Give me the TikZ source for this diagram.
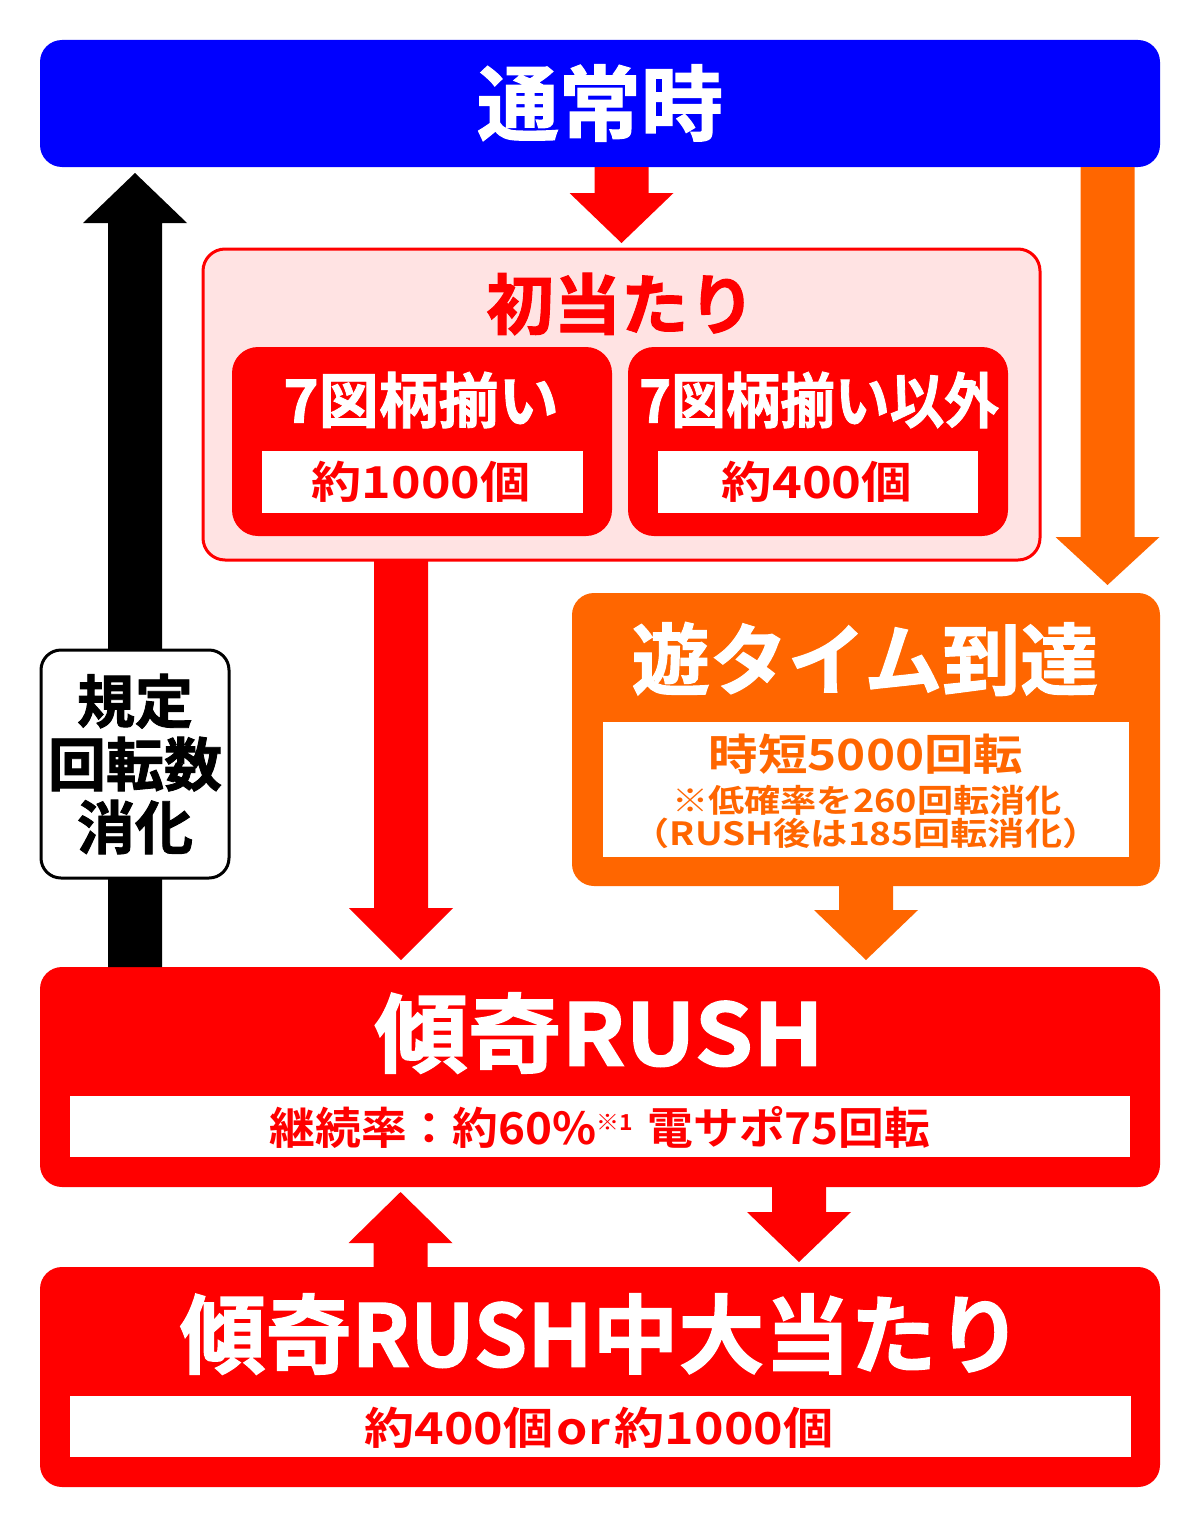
\documentclass[tikz,border=0pt]{standalone}
\usepackage{fontspec}
\newfontfamily\jp{Noto Sans CJK JP}[UprightFont={* Bold}]
\newfontfamily\jph{Noto Sans CJK JP}[UprightFont={* Bold},FakeBold=1.5]
\usetikzlibrary{calc}
\definecolor{pblue}{HTML}{0000FF}
\definecolor{pred}{HTML}{FF0000}
\definecolor{porange}{HTML}{FF6600}
\definecolor{ppink}{HTML}{FFE3E3}
\newcommand\fatdown[4]{%
  \fill[#1] let \p1=(#2), \p2=(#3) in
    (\x2-27pt,\y1) -- (\x2+27pt,\y1) -- (\x2+27pt,\y2+#4) -- (\x2+52pt,\y2+#4)
    -- (\x2,\y2) -- (\x2-52pt,\y2+#4) -- (\x2-27pt,\y2+#4) -- cycle;}
\newcommand\fatup[4]{%
  \fill[#1] let \p1=(#2), \p2=(#3) in
    (\x2-27pt,\y1) -- (\x2+27pt,\y1) -- (\x2+27pt,\y2-#4) -- (\x2+52pt,\y2-#4)
    -- (\x2,\y2) -- (\x2-52pt,\y2-#4) -- (\x2-27pt,\y2-#4) -- cycle;}
\newcommand\sx[2]{\scalebox{#1}[1]{#2}}
\tikzset{
  panel/.style={inner sep=0pt, outer sep=0pt, rounded corners=22pt},
  wrect/.style={inner sep=0pt, outer sep=0pt, fill=white},
  ttl/.style={inner sep=0pt, outer sep=0pt, text=white},
  fs/.style={font=\jph\fontsize{#1}{#1}\selectfont},
  fn/.style={font=\jp\fontsize{#1}{#1}\selectfont}
}
\begin{document}
\begin{tikzpicture}[x=1pt,y=-1pt]
\useasboundingbox (0,0) rectangle (1200,1528);
\fill[white] (0,0) rectangle (1200,1528);

% boxes
\node[panel, fill=pblue, minimum width=1120pt, minimum height=127pt] (normal) at (600,103.5) {};
\node[ttl, fs=82] (normalT) at (600,103) {通常時};

\node[panel, fill=ppink, draw=pred, line width=3pt, minimum width=837pt, minimum height=311pt] (init) at (621.5,404.5) {};
\node[ttl, text=pred, fs=66] (initT) at (621,304) {\sx{1.02}{初当たり}};

\node[panel, rounded corners=26pt, fill=pred, minimum width=380pt, minimum height=189pt] (sev) at (422,441.5) {};
\node[ttl, fs=60] (sevT) at (421,400) {7図柄揃い};
\node[wrect, minimum width=321pt, minimum height=62pt] (sevV) at (422.5,482) {};
\node[inner sep=0pt, text=pred, fn=44] (sevVT) at (421,482) {\sx{1.14}{約1000個}};

\node[panel, rounded corners=26pt, fill=pred, minimum width=380pt, minimum height=189pt] (oth) at (818,441.5) {};
\node[ttl, fs=60] (othT) at (819,400) {\sx{0.91}{7図柄揃い以外}};
\node[wrect, minimum width=320pt, minimum height=62pt] (othV) at (818,482) {};
\node[inner sep=0pt, text=pred, fn=44] (othVT) at (817,482) {\sx{1.15}{約400個}};

\node[panel, fill=porange, minimum width=588pt, minimum height=293pt] (yu) at (866,739.5) {};
\node[ttl, fs=78] (yuT) at (865,659) {遊タイム到達};
\node[wrect, minimum width=526pt, minimum height=135pt] (yuV) at (866,789.5) {};
\node[inner sep=0pt, text=porange, fn=43] (yuV1) at (866,754) {\sx{1.15}{時短5000回転}};
\node[inner sep=0pt, text=porange, fn=32] (yuV2) at (867,800) {\sx{1.13}{※低確率を260回転消化}};
\node[inner sep=0pt, text=porange, fn=32] (yuV3) at (866,833) {\sx{1.16}{（RUSH後は185回転消化）}};

\node[panel, fill=pred, minimum width=1120pt, minimum height=220pt] (rush) at (600,1077) {};
\node[ttl, fs=86] (rushT) at (599,1033) {\sx{1.09}{傾奇RUSH}};
\node[wrect, minimum width=1060pt, minimum height=61pt] (rushV) at (600,1126.5) {};
\node[inner sep=0pt, text=pred, fn=44] (rushVT) at (600,1127) {\sx{1.04}{継続率：約60\%{\fontsize{22}{22}\selectfont\raisebox{14pt}{※1}}\hspace{14pt}電サポ75回転}};

\node[panel, fill=pred, minimum width=1120pt, minimum height=220pt] (big) at (600,1377) {};
\node[ttl, fs=86] (bigT) at (601,1334) {傾奇RUSH中大当たり};
\node[wrect, minimum width=1061pt, minimum height=61pt] (bigV) at (600.5,1426.5) {};
\node[inner sep=0pt, text=pred, fn=44] (bigVT) at (599,1428) {\sx{1.14}{約400個\hspace{3pt}or\hspace{4pt}約1000個}};

% arrow tips
\coordinate (orTip) at (1107.5,585);
\coordinate (aTip) at (401,960);
\coordinate (bTip) at (135,173);
\coordinate (uTip) at (400.5,1192);
\coordinate (dTip) at (799,1262);

% connectors
\fatdown{pred}{normal.south -| init.north}{$(init.north)+(0pt,6pt)$}{50pt}
\fatdown{porange}{normal.south -| orTip}{orTip}{48pt}
\fatdown{pred}{init.south -| aTip}{aTip}{52pt}
\fatdown{porange}{yu.south}{$(rush.north -| yu.south)+(0pt,7pt)$}{50pt}
\fatup{black}{rush.north -| bTip}{bTip}{50pt}
\fatup{pred}{big.north -| uTip}{uTip}{51pt}
\fatdown{pred}{rush.south -| dTip}{dTip}{50pt}

% side label
\node[panel, rounded corners=20pt, draw=black, line width=3pt, fill=white, minimum width=188pt, minimum height=228pt] (lbl) at (135,764) {};
\node[inner sep=0pt, align=center, font=\jph\fontsize{58}{63}\selectfont] (lblT) at (135,764) {規定\\回転数\\消化};
\end{tikzpicture}
\end{document}
